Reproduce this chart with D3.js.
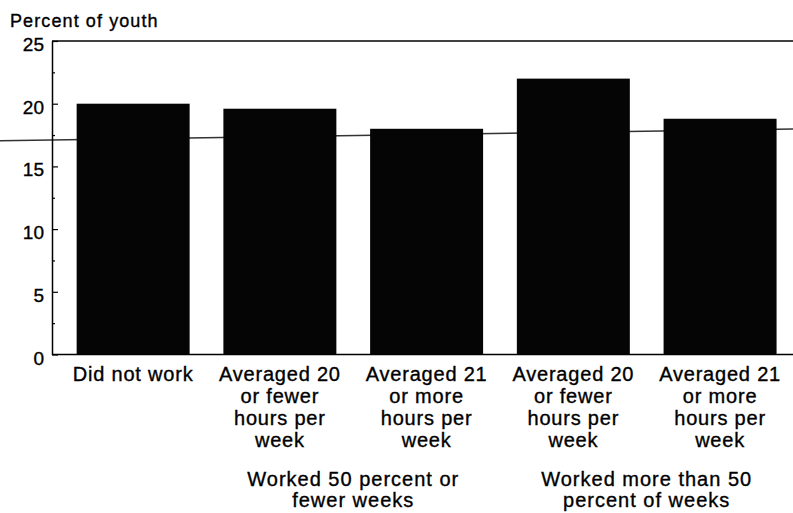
<!DOCTYPE html>
<html><head><meta charset="utf-8">
<script src="https://cdn.jsdelivr.net/npm/d3@7"></script>
<style>body{margin:0;background:#fff}svg{display:block}text{stroke:#000;stroke-width:0.35px}</style>
</head><body><svg id="c" width="793" height="513"></svg>
<script>
// ---- data ----
const categories = ["Did not work", "Averaged 20 or fewer hours per week", "Averaged 21 or more hours per week", "Averaged 20 or fewer hours per week", "Averaged 21 or more hours per week"];
const categoryLines = [
  ["Did not work"],
  ["Averaged 20", "or fewer", "hours per", "week"],
  ["Averaged 21", "or more", "hours per", "week"],
  ["Averaged 20", "or fewer", "hours per", "week"],
  ["Averaged 21", "or more", "hours per", "week"]
];
const values = [20.0, 19.6, 18.0, 22.0, 18.8];
const yTicks = [0, 5, 10, 15, 20, 25];
const yMinorTicks = [2.5, 7.5, 12.5, 17.5, 22.5];
const refLineValues = [17.05, 17.98]; // reference line at left and right edges
const groupLabels = [["Worked 50 percent or", "fewer weeks"], ["Worked more than 50", "percent of weeks"]];
const groupMembers = [[1, 2], [3, 4]];
const yTitle = "Percent of youth";

// ---- layout ----
const W = 793, H = 513;
const mLeft = 52, mRight = 793, mTop = 41, mBottom = 354.5;
const font = "'Liberation Sans', Arial, Helvetica, sans-serif";
const svg = d3.select("#c");

const x = d3.scaleBand().domain(d3.range(values.length)).range([mLeft, mRight])
  .paddingInner(0.23).paddingOuter(0.14).align(0.6);
const y = d3.scaleLinear().domain([0, 25]).range([mBottom, mTop]);

// reference line (behind bars)
svg.append("line")
  .attr("x1", 0).attr("x2", W)
  .attr("y1", y(refLineValues[0])).attr("y2", y(refLineValues[1]))
  .attr("stroke", "#333").attr("stroke-width", 1.5);

// bars
svg.append("g").selectAll("rect").data(values).join("rect")
  .attr("x", (d, i) => x(i)).attr("width", x.bandwidth())
  .attr("y", d => y(d)).attr("height", d => y(0) - y(d))
  .attr("fill", "#050505");

// top frame line & bottom baseline
svg.append("line").attr("x1", mLeft).attr("x2", mRight).attr("y1", y(25)).attr("y2", y(25))
  .attr("stroke", "#000").attr("stroke-width", 1.5);
svg.append("line").attr("x1", mLeft).attr("x2", mRight).attr("y1", y(0)).attr("y2", y(0))
  .attr("stroke", "#000").attr("stroke-width", 1.5);

// y axis (major)
const yAxis = svg.append("g").attr("transform", `translate(${mLeft},0)`)
  .call(d3.axisLeft(y).tickValues(yTicks).tickSize(-6).tickSizeOuter(0).tickPadding(8).tickFormat(d3.format("d")));
yAxis.select(".domain").attr("stroke-width", 1.5);
yAxis.selectAll(".tick line").attr("stroke-width", 1.2);
yAxis.selectAll("text").attr("font-family", font).attr("font-size", 19).attr("fill", "#000").attr("dy", "0.5em");

// minor ticks
const yMinor = svg.append("g").attr("transform", `translate(${mLeft},0)`)
  .call(d3.axisLeft(y).tickValues(yMinorTicks).tickSize(-3).tickSizeOuter(0).tickFormat(""));
yMinor.select(".domain").remove();
yMinor.selectAll(".tick line").attr("stroke-width", 1.2);

// y title
svg.append("text").attr("x", 10).attr("y", 26.5)
  .attr("font-family", font).attr("font-size", 18).attr("letter-spacing", 1.1)
  .text(yTitle);

// category labels
const lab = svg.append("g").attr("font-family", font).attr("font-size", 20)
  .attr("letter-spacing", 0.8).attr("text-anchor", "middle");
categoryLines.forEach((lines, i) => {
  const t = lab.append("text").attr("x", x(i) + x.bandwidth() / 2).attr("y", 380.7);
  lines.forEach((l, j) => t.append("tspan").attr("x", x(i) + x.bandwidth() / 2).attr("dy", j ? 22.2 : 0).text(l));
});

// group labels
const gl = svg.append("g").attr("font-family", font).attr("font-size", 20)
  .attr("letter-spacing", 1).attr("text-anchor", "middle");
groupLabels.forEach((lines, k) => {
  const cx = d3.mean(groupMembers[k], i => x(i) + x.bandwidth() / 2);
  lines.forEach((l, j) => gl.append("text").attr("x", cx).attr("y", 486 + j * 21).text(l));
});
</script>
</body></html>
